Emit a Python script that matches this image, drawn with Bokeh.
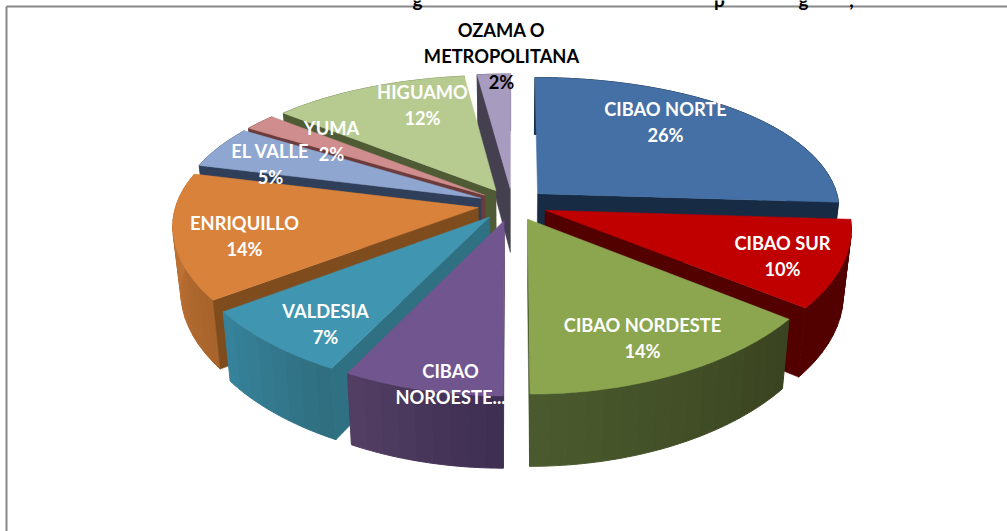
import math
from bokeh.plotting import figure
from bokeh.models import Range1d
from bokeh.core.properties import value
from bokeh.embed import file_html
from bokeh.resources import INLINE

regions = ["CIBAO NORTE", "CIBAO SUR", "CIBAO NORDESTE", "CIBAO NOROESTE", "VALDESIA",
           "ENRIQUILLO", "EL VALLE", "YUMA", "HIGUAMO", "OZAMA O METROPOLITANA"]
shares = [26, 9.6, 14.4, 7.5, 7.4, 14.1, 5, 2, 12, 2]
top_colors = ["#4570a5", "#c00000", "#8ba64f", "#71558f", "#4095b0", "#d9823b", "#8fa7d0", "#cf8d8d", "#b7cb90", "#a89bc0"]
wall_colors = ["#172b45", "#520000", "#46542a", "#3f2f52", "#2f7183", "#7f4c1e", "#2f3f5a", "#6b3b3b", "#4f5b35", "#45404f"]
rim_left = ["#172b45", "#520000", "#4a5a2e", "#523d63", "#36829a", "#c8783a", "#5a6f93", "#8a5e5e", "#7c8a60", "#71688a"]
rim_right = ["#172b45", "#520000", "#3a4420", "#3f2f52", "#2f6f80", "#a8642b", "#4f6282", "#7a5252", "#6d7a54", "#635b7a"]
label_lines = {0: ["CIBAO NORTE", "26%"], 1: ["CIBAO SUR", "10%"], 2: ["CIBAO NORDESTE", "14%"],
               3: ["CIBAO", "NOROESTE..."], 4: ["VALDESIA", "7%"], 5: ["ENRIQUILLO", "14%"],
               6: ["EL VALLE", "5%"], 7: ["YUMA", "2%"], 8: ["HIGUAMO", "12%"], 9: ["OZAMA O", "METROPOLITANA", "2%"]}
label_xy = [(665, 121), (782, 255.5), (642, 337), (450, 383.5), (325, 323), (244, 235.5), (270, 163), (331, 140), (422, 104), (501, 55)]
title_bits = [("g", 417), ("p", 719), ("g", 803), (",", 851)]
paint_order = [9, 8, 7, 6, 0, 1, 5, 4, 3, 2]

W, H = 1007, 531
CX, CY, A, B, KX, KY, EXPL = 512, 204, 302, 139.4, 0.12, 0.171, 0.115


def top_pt(th, m):
    X = math.sin(th) + EXPL * math.sin(m)
    Y = -math.cos(th) - EXPL * math.cos(m)
    return CX + A * X / (1 - KX * Y), CY + B * Y / (1 - KY * Y), Y


def bottom(x, y, Y):
    return CX + (x - CX) * 0.976, y + 64.5 + 7 * Y


def mix(c1, c2, t):
    a = [int(c1[i:i + 2], 16) for i in (1, 3, 5)]
    b = [int(c2[i:i + 2], 16) for i in (1, 3, 5)]
    return "#%02x%02x%02x" % tuple(round(u + (v - u) * t) for u, v in zip(a, b))


p = figure(width=W, height=H, x_range=Range1d(0, W), y_range=Range1d(H, 0),
           toolbar_location=None, output_backend="svg", min_border=0,
           outline_line_color=None, background_fill_color="white", border_fill_color="white")
p.axis.visible = False
p.grid.visible = False
p.styles = {"position": "absolute", "left": "0px", "top": "0px"}

p.line([6, 6], [H, 6], line_color="#888888", line_width=2)
p.line([6, W], [6, 6], line_color="#888888", line_width=2)

for txt, x in title_bits:
    p.text([x], [-1], text=[txt], text_font=value("Lato"), text_font_style="bold", text_font_size="19px",
           text_align="center", text_baseline="alphabetic", text_color="black")

bounds = []
acc = 0
total = sum(shares)
for sh in shares:
    bounds.append((acc / total * 2 * math.pi, (acc + sh) / total * 2 * math.pi))
    acc += sh

for i in paint_order:
    t0, t1 = bounds[i]
    m = (t0 + t1) / 2
    n = max(3, int(shares[i] * 1.2))
    n_fine = n * 4
    pts = [top_pt(t0 + (t1 - t0) * j / n_fine, m) for j in range(n_fine + 1)]
    EX = EXPL * math.sin(m)
    EY = -EXPL * math.cos(m)
    ax = CX + A * EX / (1 - KX * EY)
    ay = CY + B * EY / (1 - KY * EY)
    abx, aby = bottom(ax, ay, EY)
    # rim first: coarse vertical bands
    for j in range(n):
        seg = pts[j * 4:(j + 1) * 4 + 1]
        low = [bottom(*q) for q in seg]
        col = mix(rim_right[i], rim_left[i], j / max(1, n - 1))
        p.patch([q[0] for q in seg] + [q[0] for q in reversed(low)],
                [q[1] for q in seg] + [q[1] for q in reversed(low)],
                fill_color=col, line_color=col, line_width=1)
    # only the radial wall that faces the viewer
    pt = pts[-1] if m < math.pi else pts[0]
    bx, by = bottom(pt[0], pt[1], pt[2])
    p.patch([ax, pt[0], bx, abx], [ay, pt[1], by, aby], fill_color=wall_colors[i],
            line_color=wall_colors[i], line_width=0.5)
    p.patch([ax] + [q[0] for q in pts], [ay] + [q[1] for q in pts], fill_color=top_colors[i],
            line_color=top_colors[i], line_width=0.5)

for i, lines in label_lines.items():
    lx, ly = label_xy[i]
    col = "black" if i == 9 else "white"
    cnt = len(lines)
    for k, t in enumerate(lines):
        yy = ly + (k - (cnt - 1) / 2) * 26
        p.text([lx], [yy], text=[t], text_font=value("Lato"), text_font_style="bold", text_font_size="18.3px",
               text_align="center", text_baseline="middle", text_color=col)

open("out.html", "w").write(file_html(p, INLINE))
